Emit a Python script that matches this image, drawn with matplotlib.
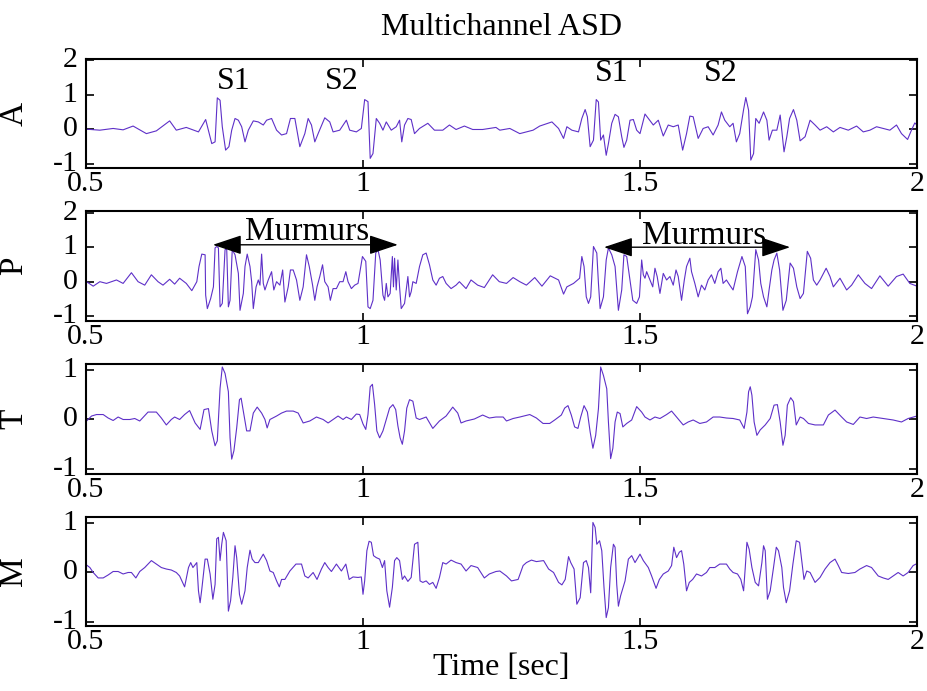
import matplotlib
matplotlib.use("Agg")
import matplotlib.pyplot as plt
from matplotlib.transforms import ScaledTranslation

plt.rcParams['font.family'] = ['Liberation Serif', 'DejaVu Serif']
plt.rcParams['mathtext.fontset'] = 'stix'

# ---------------- data (time in seconds, amplitude) ----------------
t_A = [0.500, 0.525, 0.549, 0.567, 0.585, 0.609, 0.627, 0.651, 0.663, 0.681, 0.703, 0.716, 0.727, 0.733,
       0.737, 0.742, 0.746, 0.752, 0.758, 0.763, 0.769, 0.775, 0.781, 0.787, 0.793, 0.802, 0.811, 0.820,
       0.826, 0.835, 0.844, 0.853, 0.862, 0.869, 0.877, 0.886, 0.895, 0.901, 0.907, 0.913, 0.919, 0.931,
       0.940, 0.946, 0.958, 0.970, 0.976, 0.988, 0.997, 1.003, 1.009, 1.013, 1.018, 1.024, 1.030, 1.036,
       1.042, 1.051, 1.060, 1.066, 1.070, 1.075, 1.081, 1.087, 1.093, 1.102, 1.117, 1.129, 1.144, 1.156,
       1.168, 1.183, 1.198, 1.216, 1.240,
       1.247, 1.265, 1.283, 1.307, 1.319, 1.341, 1.353, 1.362, 1.368, 1.377, 1.389, 1.395, 1.401, 1.405,
       1.410, 1.416, 1.421, 1.425, 1.429, 1.434, 1.439, 1.443, 1.449, 1.455, 1.461, 1.467, 1.471, 1.476,
       1.482, 1.488, 1.494, 1.500, 1.509, 1.515, 1.524, 1.533, 1.542, 1.551, 1.560, 1.569, 1.577, 1.584,
       1.590, 1.596, 1.605, 1.614, 1.623, 1.632, 1.641, 1.647, 1.653, 1.662, 1.668, 1.674, 1.680, 1.687,
       1.691, 1.696, 1.700, 1.705, 1.709, 1.715, 1.723, 1.729, 1.733, 1.739, 1.747, 1.753, 1.760, 1.765,
       1.770, 1.777, 1.783, 1.789, 1.798, 1.807, 1.816, 1.825, 1.837, 1.849, 1.861, 1.876, 1.891, 1.903,
       1.915, 1.927, 1.939, 1.951, 1.963, 1.972, 1.983, 1.990, 1.996, 2.000]
v_A = [0.00, -0.03, 0.02, -0.02, 0.09, -0.13, -0.05, 0.24, -0.03, 0.05, -0.08, 0.28, -0.42, -0.37,
       0.91, 0.84, 0.07, -0.61, -0.51, -0.03, 0.31, 0.26, 0.07, -0.37, -0.03, 0.24, 0.21, 0.12,
       0.26, 0.31, -0.03, -0.17, -0.13, 0.31, 0.31, -0.51, -0.13, 0.31, 0.12, -0.37, -0.13, 0.33,
       0.21, -0.08, -0.03, 0.26, -0.03, -0.08, 0.02, 0.86, 0.80, -0.85, -0.71, 0.31, 0.17, -0.03,
       0.21, -0.03, 0.07, 0.26, -0.37, 0.12, 0.31, 0.28, -0.13, 0.02, 0.17, -0.03, -0.03, 0.12,
       -0.01, 0.09, -0.01, -0.01, 0.05,
       -0.03, 0.02, -0.13, -0.03, 0.09, 0.21, 0.02, -0.27, 0.07, -0.03, -0.08, 0.31, 0.57, 0.36,
       -0.51, -0.32, 0.86, 0.79, -0.32, -0.17, -0.76, -0.42, 0.17, 0.43, 0.36, -0.22, -0.53, -0.32,
       0.26, 0.28, -0.03, -0.13, 0.44, 0.31, 0.12, 0.26, -0.20, 0.12, 0.07, 0.12, -0.61, -0.13,
       0.38, 0.36, -0.27, 0.02, 0.07, -0.17, 0.12, 0.50, 0.26, 0.07, 0.17, -0.37, -0.13, 0.57,
       0.92, 0.55, -0.90, -0.71, 0.31, 0.17, 0.50, 0.26, -0.32, -0.03, -0.03, 0.41, -0.66, -0.22,
       0.31, 0.57, 0.26, -0.34, -0.22, 0.26, 0.12, -0.03, 0.07, -0.08, 0.05, -0.03, 0.09, -0.08,
       -0.03, 0.07, 0.02, -0.03, 0.12, -0.13, -0.30, -0.03, 0.18, 0.12]

t_P = [0.501, 0.513, 0.525, 0.537, 0.555, 0.567, 0.582, 0.594, 0.606, 0.618, 0.630, 0.639, 0.651, 0.660,
       0.669, 0.681, 0.691, 0.700, 0.704, 0.709, 0.715, 0.716, 0.719, 0.725, 0.730, 0.733, 0.736, 0.739,
       0.742, 0.746, 0.751, 0.754, 0.757, 0.760, 0.764, 0.769, 0.775, 0.778, 0.784, 0.787, 0.791, 0.796,
       0.799, 0.802, 0.807, 0.811, 0.814, 0.817, 0.820, 0.823, 0.829, 0.835, 0.839, 0.844, 0.850, 0.855,
       0.859, 0.865, 0.869, 0.874, 0.880, 0.886, 0.892, 0.898, 0.903, 0.909, 0.913, 0.917, 0.922, 0.927,
       0.931, 0.937, 0.941, 0.946, 0.952, 0.958, 0.964, 0.969, 0.973, 0.979, 0.985, 0.991, 0.999, 1.005,
       1.009, 1.013, 1.018, 1.023, 1.027, 1.031, 1.036, 1.039, 1.042, 1.045, 1.049, 1.053, 1.055, 1.057,
       1.060, 1.063, 1.066, 1.069, 1.075, 1.081, 1.084, 1.087, 1.090, 1.096, 1.102, 1.108, 1.114, 1.120,
       1.126, 1.132, 1.138, 1.144, 1.150, 1.159, 1.168, 1.174, 1.186, 1.195, 1.207, 1.219, 1.234, 1.246,
       1.259, 1.271, 1.283, 1.295, 1.310, 1.323, 1.338, 1.353, 1.362, 1.368, 1.380, 1.391, 1.395, 1.399,
       1.403, 1.407, 1.411, 1.416, 1.422, 1.425, 1.428, 1.434, 1.439, 1.443, 1.449, 1.455, 1.461, 1.467,
       1.471, 1.476, 1.481, 1.487, 1.494, 1.499, 1.503, 1.506, 1.509, 1.512, 1.518, 1.523, 1.527, 1.531,
       1.536, 1.542, 1.548, 1.554, 1.560, 1.565, 1.569, 1.575, 1.580, 1.584, 1.590, 1.593, 1.599, 1.605,
       1.611, 1.617, 1.623, 1.629, 1.635, 1.641, 1.646, 1.650, 1.656, 1.662, 1.668, 1.676, 1.684, 1.690,
       1.694, 1.699, 1.703, 1.709, 1.714, 1.718, 1.723, 1.729, 1.733, 1.738, 1.742, 1.747, 1.752, 1.758,
       1.764, 1.771, 1.777, 1.783, 1.789, 1.795, 1.802, 1.808, 1.813, 1.819, 1.825, 1.836, 1.843, 1.849,
       1.861, 1.873, 1.882, 1.894, 1.906, 1.918, 1.933, 1.948, 1.963, 1.975, 1.987, 2.000]
v_P = [0.00, -0.13, 0.00, -0.05, 0.05, -0.05, 0.26, 0.00, -0.10, 0.20, 0.00, -0.10, 0.07, -0.07,
       0.10, -0.05, -0.26, 0.00, 0.44, 0.80, 0.78, -0.39, -0.78, -0.49, -0.15, 0.98, 1.02, 0.98,
       -0.73, -0.63, 0.93, 0.95, -0.73, -0.54, 0.93, 0.78, 0.24, -0.83, -0.34, 0.44, 0.80, 0.44,
       0.00, -0.78, -0.15, 0.05, -0.10, 0.80, -0.05, -0.24, 0.05, 0.29, -0.24, 0.00, -0.10, 0.34,
       -0.59, -0.15, 0.34, 0.34, 0.05, -0.54, -0.15, 0.78, 0.44, -0.10, -0.54, -0.15, 0.15, 0.49,
       0.00, -0.15, -0.54, -0.20, -0.20, 0.00, 0.00, 0.29, 0.00, -0.20, -0.10, -0.05, 0.73, 0.59,
       -0.73, -0.78, -0.54, 0.83, 0.93, 0.63, -0.39, -0.54, -0.05, -0.44, -0.34, 0.73, -0.15, 0.68,
       -0.24, 0.63, -0.15, -0.78, -0.63, 0.15, -0.44, -0.29, 0.00, -0.05, 0.44, 0.78, 0.83, 0.49,
       0.05, -0.10, 0.10, 0.15, -0.05, -0.20, -0.10, 0.00, -0.20, 0.05, -0.10, -0.17, 0.20, 0.00,
       -0.05, 0.12, 0.00, -0.10, 0.12, -0.13, 0.17, 0.05, -0.36, -0.15, -0.05, 0.10, 0.73, 0.44,
       -0.44, -0.63, -0.44, 1.02, 0.83, -0.05, -0.78, -0.44, 0.63, 0.98, 0.78, 0.44, -0.83, -0.24,
       0.78, 0.73, 0.15, -0.54, -0.63, -0.44, 0.63, 0.20, 0.10, 0.29, 0.05, -0.15, 0.39, 0.15,
       -0.34, 0.24, 0.05, 0.15, -0.10, 0.34, 0.15, -0.54, 0.05, 0.44, 0.68, 0.29, -0.05, -0.44,
       -0.10, -0.24, 0.05, 0.20, -0.05, 0.29, 0.39, -0.05, 0.05, -0.10, -0.24, 0.29, 0.73, 0.44,
       -0.93, -0.73, -0.44, 0.93, 0.63, -0.05, -0.44, -0.73, -0.24, 0.34, 0.63, 0.83, 0.34, -0.83,
       -0.54, 0.54, 0.39, -0.15, -0.49, -0.34, 0.88, 0.68, 0.05, -0.10, 0.05, 0.39, 0.15, -0.15,
       0.10, -0.24, -0.10, 0.20, -0.05, -0.20, 0.17, -0.13, 0.15, 0.22, -0.05, -0.13]

t_T = [0.501, 0.510, 0.519, 0.531, 0.540, 0.549, 0.558, 0.567, 0.579, 0.588, 0.597, 0.612, 0.627, 0.636,
       0.645, 0.654, 0.660, 0.669, 0.678, 0.687, 0.697, 0.706, 0.713, 0.721, 0.727, 0.733, 0.737, 0.742,
       0.746, 0.751, 0.757, 0.760, 0.763, 0.767, 0.772, 0.777, 0.780, 0.784, 0.790, 0.796, 0.802, 0.809,
       0.817, 0.823, 0.827, 0.832, 0.844, 0.853, 0.862, 0.874, 0.883, 0.892, 0.904, 0.916, 0.928, 0.937,
       0.946, 0.955, 0.964, 0.970, 0.979, 0.988, 0.994, 1.000, 1.005, 1.009, 1.013, 1.017, 1.021, 1.025,
       1.030, 1.036, 1.042, 1.048, 1.054, 1.059, 1.063, 1.067, 1.071, 1.075, 1.079, 1.084, 1.090, 1.096,
       1.102, 1.114, 1.126, 1.138, 1.150, 1.162, 1.171, 1.177, 1.186, 1.201, 1.216, 1.228, 1.240,
       1.247, 1.253, 1.259, 1.271, 1.283, 1.301, 1.313, 1.325, 1.337, 1.346, 1.358, 1.364, 1.370, 1.376,
       1.382, 1.388, 1.393, 1.399, 1.405, 1.410, 1.415, 1.420, 1.425, 1.429, 1.434, 1.440, 1.443, 1.447,
       1.451, 1.455, 1.459, 1.464, 1.469, 1.476, 1.485, 1.494, 1.503, 1.509, 1.518, 1.527, 1.536, 1.548,
       1.557, 1.566, 1.578, 1.587, 1.596, 1.608, 1.620, 1.632, 1.644, 1.656, 1.668, 1.680, 1.688, 1.693,
       1.696, 1.699, 1.702, 1.706, 1.711, 1.717, 1.726, 1.735, 1.742, 1.748, 1.753, 1.758, 1.762, 1.766,
       1.772, 1.777, 1.782, 1.789, 1.795, 1.804, 1.816, 1.831, 1.840, 1.852, 1.864, 1.873, 1.885, 1.897,
       1.909, 1.921, 1.933, 1.945, 1.957, 1.972, 1.984, 2.000]
v_T = [-0.03, 0.07, 0.10, 0.10, 0.03, -0.02, 0.05, 0.00, 0.00, 0.02, -0.03, 0.15, 0.15, 0.03,
       -0.11, 0.00, 0.05, 0.00, 0.10, 0.18, -0.07, -0.20, 0.20, 0.22, -0.23, -0.53, -0.43, 0.63,
       1.06, 0.93, 0.56, -0.37, -0.80, -0.63, -0.17, 0.40, 0.43, 0.17, -0.23, -0.23, 0.13, 0.25,
       0.13, 0.00, -0.17, 0.00, 0.07, 0.13, 0.17, 0.17, 0.13, -0.07, -0.03, 0.05, 0.00, -0.07,
       0.00, 0.07, 0.00, 0.05, 0.00, 0.11, 0.10, -0.09, -0.20, 0.10, 0.66, 0.71, 0.30, -0.23,
       -0.37, -0.23, 0.00, 0.23, 0.30, 0.20, -0.13, -0.37, -0.50, -0.23, 0.23, 0.40, 0.37, 0.03,
       0.00, 0.05, -0.18, -0.03, 0.07, 0.25, 0.13, -0.07, -0.03, 0.01, 0.09, 0.03, 0.05,
       0.05, 0.05, -0.03, 0.02, 0.05, 0.10, 0.03, -0.08, -0.08, -0.01, 0.09, 0.23, 0.28, 0.09,
       -0.15, -0.18, 0.05, 0.28, 0.15, -0.25, -0.58, -0.32, 0.22, 1.06, 0.89, 0.62, -0.05, -0.79,
       -0.58, -0.05, 0.15, 0.12, -0.15, -0.08, -0.01, 0.26, 0.15, 0.05, -0.01, 0.05, 0.02, 0.10,
       0.17, 0.05, -0.11, -0.05, -0.01, -0.08, -0.05, 0.05, 0.05, 0.03, 0.02, -0.01, -0.18, 0.15,
       0.56, 0.66, 0.49, -0.05, -0.32, -0.21, -0.11, 0.02, 0.29, 0.30, -0.05, -0.52, -0.32, 0.29,
       0.44, 0.36, -0.11, 0.05, 0.02, -0.08, -0.11, -0.11, 0.09, 0.19, 0.05, -0.05, -0.10, 0.05,
       0.02, 0.05, 0.03, 0.01, -0.01, -0.05, 0.02, 0.07]

t_M = [0.500, 0.507, 0.513, 0.522, 0.531, 0.540, 0.549, 0.558, 0.567, 0.576, 0.582, 0.590, 0.597, 0.606,
       0.618, 0.627, 0.636, 0.645, 0.654, 0.663, 0.669, 0.678, 0.685, 0.689, 0.693, 0.700, 0.703, 0.706,
       0.709, 0.715, 0.719, 0.724, 0.729, 0.733, 0.736, 0.739, 0.742, 0.745, 0.748, 0.753, 0.757, 0.761,
       0.765, 0.769, 0.772, 0.777, 0.781, 0.787, 0.791, 0.796, 0.800, 0.805, 0.811, 0.820, 0.826, 0.832,
       0.838, 0.844, 0.849, 0.853, 0.859, 0.868, 0.879, 0.889, 0.895, 0.901, 0.910, 0.917, 0.925, 0.931,
       0.937, 0.943, 0.952, 0.961, 0.969, 0.975, 0.982, 0.991, 0.997, 1.000, 1.003, 1.007, 1.011, 1.015,
       1.019, 1.024, 1.030, 1.035, 1.039, 1.043, 1.048, 1.053, 1.057, 1.061, 1.066, 1.071, 1.075, 1.081,
       1.087, 1.093, 1.099, 1.103, 1.108, 1.114, 1.120, 1.126, 1.132, 1.138, 1.144, 1.150, 1.159, 1.168,
       1.177, 1.186, 1.195, 1.207, 1.219, 1.228, 1.240,
       1.247, 1.259, 1.268, 1.280, 1.289, 1.295, 1.304, 1.313, 1.326, 1.335, 1.344, 1.353, 1.359, 1.365,
       1.371, 1.375, 1.381, 1.386, 1.392, 1.398, 1.403, 1.407, 1.411, 1.415, 1.419, 1.422, 1.427, 1.431,
       1.435, 1.439, 1.443, 1.447, 1.452, 1.455, 1.458, 1.461, 1.465, 1.473, 1.479, 1.485, 1.491, 1.500,
       1.506, 1.515, 1.521, 1.529, 1.535, 1.542, 1.551, 1.557, 1.561, 1.566, 1.571, 1.575, 1.579, 1.584,
       1.589, 1.595, 1.602, 1.611, 1.620, 1.626, 1.635, 1.644, 1.656, 1.662, 1.668, 1.676, 1.682, 1.687,
       1.690, 1.693, 1.697, 1.702, 1.708, 1.714, 1.720, 1.723, 1.726, 1.730, 1.735, 1.741, 1.746, 1.750,
       1.756, 1.759, 1.764, 1.770, 1.776, 1.782, 1.788, 1.792, 1.796, 1.801, 1.807, 1.816, 1.825, 1.834,
       1.843, 1.852, 1.858, 1.864, 1.876, 1.888, 1.897, 1.909, 1.918, 1.930, 1.939, 1.948, 1.957, 1.966,
       1.975, 1.984, 1.993, 2.000]
v_M = [0.16, 0.10, 0.00, -0.11, -0.11, -0.05, 0.02, 0.02, -0.03, 0.00, 0.00, -0.11, 0.02, 0.10,
       0.24, 0.17, 0.10, 0.07, 0.05, 0.00, -0.07, -0.29, 0.10, 0.20, 0.10, 0.20, -0.37, -0.61,
       -0.34, 0.27, 0.27, -0.03, -0.54, -0.24, 0.68, 0.71, 0.24, 0.57, 0.81, 0.64, -0.78, -0.57,
       -0.10, 0.54, 0.30, -0.44, -0.64, -0.37, 0.10, 0.45, 0.27, 0.20, 0.20, 0.37, 0.24, 0.03,
       0.00, -0.17, -0.29, -0.14, -0.14, 0.03, 0.17, 0.17, -0.07, -0.11, 0.00, -0.14, 0.07, 0.20,
       0.10, 0.02, 0.17, 0.03, 0.17, -0.14, -0.09, -0.10, -0.09, -0.44, -0.17, 0.44, 0.63, 0.61,
       0.34, 0.30, 0.27, 0.10, 0.24, -0.37, -0.70, -0.30, 0.24, 0.30, 0.24, -0.14, -0.07, -0.18,
       -0.10, 0.57, 0.61, -0.17, -0.20, -0.17, -0.24, -0.20, -0.32, -0.10, 0.20, 0.17, 0.25, 0.20,
       0.17, 0.03, 0.14, 0.10, -0.11, -0.03, 0.02,
       0.03, -0.07, -0.17, -0.14, 0.14, 0.20, 0.25, 0.22, 0.24, 0.07, 0.00, -0.20, -0.25, -0.14,
       0.32, 0.20, 0.07, -0.64, -0.51, 0.20, 0.24, 0.10, -0.41, 1.01, 0.91, 0.57, 0.64, 0.44,
       -0.30, -0.91, -0.71, 0.10, 0.57, 0.51, -0.24, -0.68, -0.47, -0.17, 0.27, 0.34, 0.20, 0.37,
       0.24, 0.10, -0.07, -0.32, -0.14, -0.03, 0.03, 0.14, 0.51, 0.30, 0.41, 0.44, 0.17, -0.37,
       -0.20, -0.14, -0.03, -0.07, 0.00, 0.10, 0.10, 0.17, 0.17, 0.07, 0.00, -0.03, -0.14, -0.37,
       0.10, 0.61, 0.47, 0.10, -0.20, -0.27, 0.20, 0.54, 0.44, -0.54, -0.37, 0.10, 0.51, 0.44,
       0.10, -0.30, -0.61, -0.37, 0.17, 0.64, 0.61, 0.24, -0.14, 0.03, 0.00, -0.20, -0.10, 0.07,
       0.20, 0.27, 0.14, 0.00, -0.02, 0.00, 0.07, 0.14, 0.10, -0.07, -0.11, -0.14, -0.07, 0.00,
       -0.07, 0.00, 0.14, 0.18]

channel_names = ['A', 'P', 'T', 'M']
x_ticks = [0.5, 1.0, 1.5, 2.0]
x_ticklabels = ['0.5', '1', '1.5', '2']
y_ticks_AP = [-1, 0, 1, 2]
y_ticks_TM = [-1, 0, 1]
heart_sound_labels = [('S1', 0.766), ('S2', 0.962), ('S1', 1.449), ('S2', 1.646)]
murmur_spans = [(0.729, 1.063), (1.435, 1.771)]

# ---------------- figure ----------------
W, H = 927, 691
fig = plt.figure(figsize=(W / 100, H / 100), dpi=100)

def frac(top, bottom):
    return [86 / W, 1 - bottom / H, (917 - 86) / W, (bottom - top) / H]

rects = [frac(59, 168), frac(211, 321), frac(364, 474), frac(517, 626)]
ylims = [(-1.13, 2.04), (-1.14, 2.05), (-1.1, 1.12), (-1.08, 1.12)]
series = [(t_A, v_A), (t_P, v_P), (t_T, v_T), (t_M, v_M)]
yticks = [y_ticks_AP, y_ticks_AP, y_ticks_TM, y_ticks_TM]

line_color = '#5e30c8'
fs = 21.5

axes = []
for i, r in enumerate(rects):
    ax = fig.add_axes(r)
    t, v = series[i]
    ax.plot(t, v, color=line_color, lw=0.8)
    ax.set_xlim(0.5, 2.0)
    ax.set_ylim(*ylims[i])
    ax.set_xticks(x_ticks)
    ax.set_xticklabels(x_ticklabels)
    ax.set_yticks(yticks[i])
    ax.set_yticklabels([str(y) for y in yticks[i]])
    ax.tick_params(direction='in', length=6, width=1.2, top=True, right=True,
                   labelsize=fs, pad=2, colors='black')
    ax.tick_params(axis='y', pad=6)
    # shift y tick labels slightly upward (as in the reference)
    up = ScaledTranslation(0, 3 / 100, fig.dpi_scale_trans)
    for lab in ax.get_yticklabels():
        lab.set_transform(lab.get_transform() + up)
    for s in ax.spines.values():
        s.set_linewidth(1.5)
    ax.set_ylabel(channel_names[i], fontsize=fs + 2.5)
    ax.yaxis.set_label_coords(-0.068, 0.5)
    axes.append(ax)

axes[0].set_title('Multichannel ASD', fontsize=fs + 1.5, pad=17)
axes[-1].set_xlabel('Time [sec]', fontsize=fs + 1.5, labelpad=-1)

# S1 / S2 labels
for (lab, tx), yy in zip(heart_sound_labels, [1.40, 1.40, 1.61, 1.61]):
    axes[0].text(tx, yy, lab, fontsize=fs + 1.5, ha='center', va='center')

# Murmurs arrows
for (t0, t1), ya, yt, tc in zip(murmur_spans, [1.07, 1.0], [1.22, 1.10], [0.899, 1.616]):
    axes[1].annotate('', xy=(t0, ya), xytext=(t1, ya),
                     arrowprops=dict(arrowstyle='<|-|>,head_length=0.9,head_width=0.3',
                                     color='black', lw=1.0, shrinkA=0, shrinkB=0,
                                     mutation_scale=20))
    axes[1].text(tc, yt, 'Murmurs', fontsize=fs + 2.5, ha='center', va='baseline')

fig.savefig('out.png', dpi=100)
